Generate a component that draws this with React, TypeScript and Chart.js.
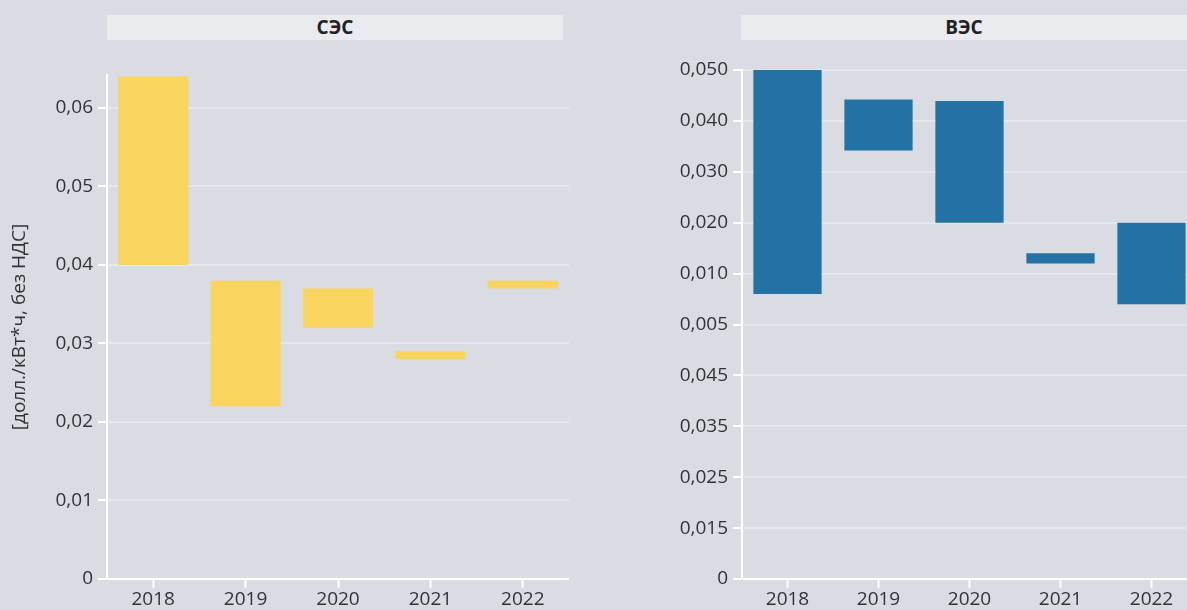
import React, { useEffect, useRef } from "react";
import { Chart, registerables } from "chart.js";

Chart.register(...registerables);

const YEARS = ["2018", "2019", "2020", "2021", "2022"];

// СЭС: floating bars [low, high], долл./кВт*ч
const SES_LOW = [0.04, 0.022, 0.032, 0.028, 0.037];
const SES_HIGH = [0.064, 0.038, 0.037, 0.029, 0.038];
const SES_TICKS = [0, 0.01, 0.02, 0.03, 0.04, 0.05, 0.06];
const SES_MAX = 0.0642;

// ВЭС: axis positions (the axis labels in the source are ordered as printed)
const VES_LOW = [5.6, 8.42, 7.0, 6.2, 5.4];
const VES_HIGH = [10, 9.42, 9.39, 6.4, 7.0];
const VES_TICK_LABELS = ["0", "0,015", "0,025", "0,035", "0,045", "0,005", "0,010", "0,020", "0,030", "0,040", "0,050"];

const BG = "#d9dce3";
const HEADER_BG = "#eaebef";
const GRID = "#e6e7eb";
const TEXT = "#333333";
const FONT = "'Open Sans', 'Noto Sans', sans-serif";

const fmtSes = (v: number) => (v === 0 ? "0" : v.toFixed(2).replace(".", ","));

function makeOptions(opts: {
  yMax: number;
  ticks: number[];
  label: (v: number) => string;
  yTitle?: string;
  top: number;
}) {
  return {
    responsive: false,
    animation: false,
    maintainAspectRatio: false,
    layout: { padding: { top: opts.top, right: 0, bottom: 0, left: 0 } },
    plugins: { legend: { display: false }, tooltip: { enabled: false }, title: { display: false } },
    scales: {
      x: {
        grid: {
          offset: false,
          drawOnChartArea: false,
          drawTicks: true,
          tickLength: 9,
          tickColor: "#ffffff",
          tickWidth: 2,
        },
        border: { color: "#ffffff", width: 2 },
        ticks: { color: TEXT, font: { family: FONT, size: 19 }, padding: 0, maxRotation: 0 },
        afterFit: (scale: any) => {
          scale.height = 31;
        },
      },
      y: {
        min: 0,
        max: opts.yMax,
        afterBuildTicks: (scale: any) => {
          scale.ticks = opts.ticks.map((v) => ({ value: v }));
        },
        grid: {
          color: GRID,
          lineWidth: 2,
          drawTicks: true,
          tickLength: 9,
          tickColor: "#ffffff",
          tickWidth: 2,
        },
        border: { color: "#ffffff", width: 2 },
        ticks: {
          color: TEXT,
          font: { family: FONT, size: 19 },
          padding: 5,
          callback: (v: any) => opts.label(Number(v)),
        },
        title: opts.yTitle
          ? {
              display: true,
              text: opts.yTitle,
              color: TEXT,
              font: { family: FONT, size: 19 },
              padding: { top: 8, bottom: 0 },
            }
          : { display: false },
        afterFit: (scale: any) => {
          scale.width = 107;
        },
      },
    },
  } as any;
}

function BarPanel(props: {
  left: number;
  width: number;
  low: number[];
  high: number[];
  color: string;
  options: any;
  barPct: number;
}) {
  const ref = useRef<HTMLCanvasElement>(null);
  useEffect(() => {
    if (!ref.current) return;
    const chart = new Chart(ref.current, {
      type: "bar",
      data: {
        labels: YEARS,
        datasets: [
          {
            data: props.low.map((l, i) => [l, props.high[i]]) as any,
            backgroundColor: props.color,
            borderWidth: 0,
            borderSkipped: false,
            barPercentage: props.barPct,
            categoryPercentage: 1,
          },
        ],
      },
      options: props.options,
    });
    return () => chart.destroy();
  }, []);
  return (
    <canvas
      ref={ref}
      width={props.width}
      height={610}
      style={{ position: "absolute", left: props.left, top: 0, width: props.width, height: 610 }}
    />
  );
}

const headerStyle = (left: number, width: number): React.CSSProperties => ({
  position: "absolute",
  left,
  top: 15,
  width,
  height: 25,
  background: HEADER_BG,
  color: "#222",
  fontFamily: FONT,
  fontWeight: 700,
  fontSize: 19,
  lineHeight: "25px",
  textAlign: "center",
});

export default function App() {
  const sesOptions = makeOptions({
    yMax: SES_MAX,
    ticks: SES_TICKS,
    label: fmtSes,
    yTitle: "[долл./кВт*ч, без НДС]",
    top: 75,
  });
  const vesOptions = makeOptions({
    yMax: 10,
    ticks: VES_TICK_LABELS.map((_, i) => i),
    label: (v: number) => VES_TICK_LABELS[Math.round(v)] ?? "",
    top: 70,
  });
  return (
    <div
      style={{
        position: "absolute",
        left: 0,
        top: 0,
        width: 1187,
        height: 610,
        overflow: "hidden",
        background: BG,
      }}
    >
      <div style={headerStyle(107, 456)}>СЭС</div>
      <div style={headerStyle(741, 446)}>ВЭС</div>
      <BarPanel left={0} width={569} low={SES_LOW} high={SES_HIGH} color="#f9d55f" options={sesOptions} barPct={0.76} />
      <BarPanel left={635} width={562} low={VES_LOW} high={VES_HIGH} color="#2472a4" options={vesOptions} barPct={0.75} />
    </div>
  );
}
